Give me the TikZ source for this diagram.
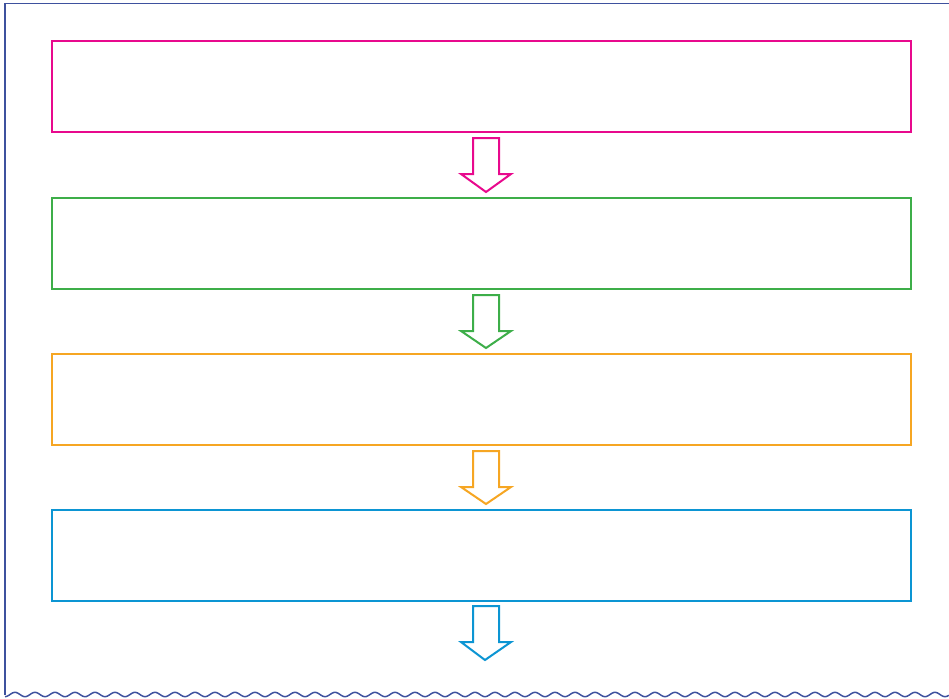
\documentclass[tikz,border=0pt]{standalone}
\usetikzlibrary{calc}
\definecolor{cmag}{HTML}{E8098D}
\definecolor{cgreen}{HTML}{3DAE49}
\definecolor{corange}{HTML}{F6A623}
\definecolor{cblue}{HTML}{0C95D3}
\definecolor{cframe}{HTML}{3E519E}
\begin{document}
\begin{tikzpicture}[x=1pt,y=-1pt,
  stepbox/.style={draw, line width=2pt, minimum width=859pt, minimum height=91pt, inner sep=0pt, anchor=north west},
  blockarrow/.style={line width=2pt, fill=white, line join=miter}]
\useasboundingbox (0,0) rectangle (949,698);
% frame
\draw[cframe, line width=1.5pt] (949,3.5) -- (5,3.5) -- (5,695);
\draw[cframe, line width=1.5pt] plot[domain=0:47.2, samples=500, smooth] ({5+20*\x}, {694.5 + 2.2*cos(360*mod(\x,1))});
% boxes
\node[stepbox, draw=cmag] (b1) at (51,40) {};
\node[stepbox, draw=cgreen] (b2) at (51,197) {};
\node[stepbox, draw=corange] (b3) at (51,353) {};
\node[stepbox, draw=cblue] (b4) at (51,509) {};
\coordinate (end) at (485,660);
% arrows
\foreach \a/\b/\c in {b1/b2/cmag, b2/b3/cgreen, b3/b4/corange} {
  \draw[blockarrow, draw=\c]
    ($(\a.south)+(-8.5,5)$) coordinate (t)
    -- ++(0,36) -- ++(-12,0) -- ($(\b.north)+(4.5,-5)$) -- ($(t)+(38,36)$) -- ++(-12,0) -- ($(t)+(26,0)$) -- cycle;
}
\draw[blockarrow, draw=cblue]
    ($(b4.south)+(-8.5,4)$) coordinate (t)
    -- ++(0,36) -- ++(-12,0) -- (end) -- ($(t)+(38,36)$) -- ++(-12,0) -- ($(t)+(26,0)$) -- cycle;
\end{tikzpicture}
\end{document}
